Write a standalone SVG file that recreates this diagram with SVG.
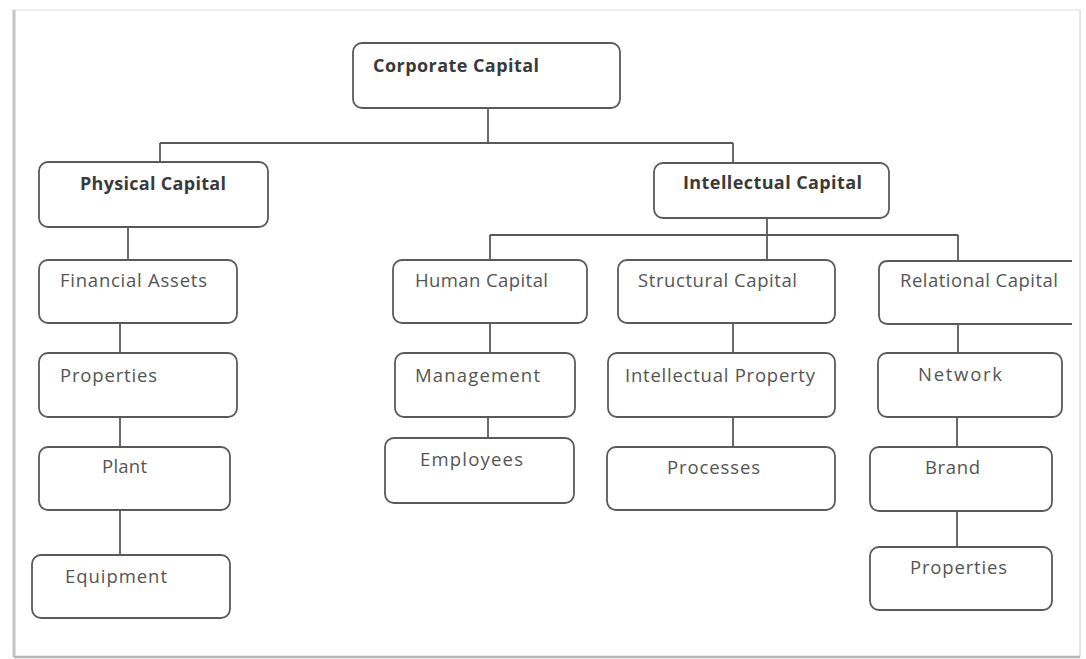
<svg xmlns="http://www.w3.org/2000/svg" width="1086" height="659" viewBox="0 0 1086 659">
  <style>
    .box { fill: #ffffff; stroke: #5a5a5a; stroke-width: 1.8; }
    .lbl { font-family: "Open Sans", "Liberation Sans", sans-serif; font-size: 18.5px; fill: #555555; }
    .hd { font-family: "Open Sans", "Liberation Sans", sans-serif; font-size: 18px; font-weight: bold; fill: #3a3a3a; }
    .wire { fill: none; stroke: #5a5a5a; stroke-width: 1.8; }
  </style>

  <!-- page frame with soft shadow on left and bottom -->
  <rect x="0" y="0" width="1086" height="659" fill="#ffffff"/>
  <g id="frame">
    <line x1="14" y1="10" x2="1080" y2="10" stroke="#eeeeee" stroke-width="2"/>
    <line x1="1080" y1="10" x2="1080" y2="657" stroke="#e6e6e6" stroke-width="2"/>
    <line x1="14" y1="10" x2="14" y2="657" stroke="#c4c4c4" stroke-width="3"/>
    <line x1="14" y1="657" x2="1080" y2="657" stroke="#b8b8b8" stroke-width="2.5"/>
  </g>

  <g id="connectors">
    <path class="wire" d="M488 108 V143"/>
    <path class="wire" d="M160 143 H733"/>
    <path class="wire" d="M160 143 V162"/>
    <path class="wire" d="M733 143 V163"/>
    <path class="wire" d="M128 227 V260"/>
    <path class="wire" d="M120 323 V353"/>
    <path class="wire" d="M120 417 V447"/>
    <path class="wire" d="M120 510 V555"/>
    <path class="wire" d="M767 218 V261"/>
    <path class="wire" d="M490 235 H958"/>
    <path class="wire" d="M490 235 V260"/>
    <path class="wire" d="M958 235 V261"/>
    <path class="wire" d="M490 323 V353"/>
    <path class="wire" d="M488 417 V438"/>
    <path class="wire" d="M733 323 V353"/>
    <path class="wire" d="M733 417 V447"/>
    <path class="wire" d="M958 324 V353"/>
    <path class="wire" d="M957 417 V447"/>
    <path class="wire" d="M957 511 V547"/>
  </g>

  <g id="corporate-capital">
    <rect class="box" x="353" y="43" width="267" height="65" rx="9"/>
    <text class="hd" x="373" y="72" textLength="166">Corporate Capital</text>
  </g>

  <g id="physical-capital">
    <rect class="box" x="39" y="162" width="229" height="65" rx="9"/>
    <text class="hd" x="80" y="190" textLength="146">Physical Capital</text>
  </g>

  <g id="intellectual-capital">
    <rect class="box" x="654" y="163" width="235" height="55" rx="9"/>
    <text class="hd" x="683" y="189" textLength="179">Intellectual Capital</text>
  </g>

  <g id="financial-assets">
    <rect class="box" x="39" y="260" width="198" height="63" rx="9"/>
    <text class="lbl" x="60" y="287" textLength="147">Financial Assets</text>
  </g>

  <g id="properties-physical">
    <rect class="box" x="39" y="353" width="198" height="64" rx="9"/>
    <text class="lbl" x="60" y="382" textLength="97">Properties</text>
  </g>

  <g id="plant">
    <rect class="box" x="39" y="447" width="191" height="63" rx="9"/>
    <text class="lbl" x="102" y="473" textLength="45">Plant</text>
  </g>

  <g id="equipment">
    <rect class="box" x="32" y="555" width="198" height="63" rx="9"/>
    <text class="lbl" x="65" y="583" textLength="102">Equipment</text>
  </g>

  <g id="human-capital">
    <rect class="box" x="393" y="260" width="194" height="63" rx="9"/>
    <text class="lbl" x="415" y="287" textLength="133">Human Capital</text>
  </g>

  <g id="management">
    <rect class="box" x="395" y="353" width="180" height="64" rx="9"/>
    <text class="lbl" x="415" y="382" textLength="125">Management</text>
  </g>

  <g id="employees">
    <rect class="box" x="385" y="438" width="189" height="65" rx="9"/>
    <text class="lbl" x="420" y="466" textLength="103">Employees</text>
  </g>

  <g id="structural-capital">
    <rect class="box" x="618" y="260" width="217" height="63" rx="9"/>
    <text class="lbl" x="638" y="287" textLength="159">Structural Capital</text>
  </g>

  <g id="intellectual-property">
    <rect class="box" x="608" y="353" width="227" height="64" rx="9"/>
    <text class="lbl" x="625" y="382" textLength="190">Intellectual Property</text>
  </g>

  <g id="processes">
    <rect class="box" x="607" y="447" width="228" height="63" rx="9"/>
    <text class="lbl" x="667" y="474" textLength="93">Processes</text>
  </g>

  <g id="relational-capital">
    <path class="box" d="M1072 261 H888 Q879 261 879 270 V315 Q879 324 888 324 H1072"/>
    <text class="lbl" x="900" y="287" textLength="158">Relational Capital</text>
  </g>

  <g id="network">
    <rect class="box" x="878" y="353" width="184" height="64" rx="9"/>
    <text class="lbl" x="918" y="381" textLength="84">Network</text>
  </g>

  <g id="brand">
    <rect class="box" x="870" y="447" width="182" height="64" rx="9"/>
    <text class="lbl" x="925" y="474" textLength="55">Brand</text>
  </g>

  <g id="properties-relational">
    <rect class="box" x="870" y="547" width="182" height="63" rx="9"/>
    <text class="lbl" x="910" y="574" textLength="97">Properties</text>
  </g>
</svg>
